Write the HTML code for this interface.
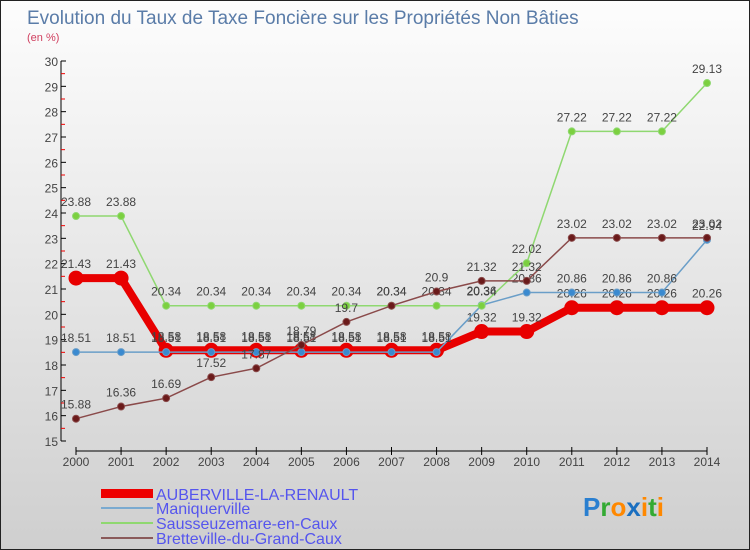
<!DOCTYPE html>
<html><head><meta charset="utf-8"><style>
body{margin:0}
#c{width:750px;height:550px;position:relative;overflow:hidden;box-sizing:border-box;border:1px solid #222;background:linear-gradient(#fdfdfd,#cfcfcf);font-family:"Liberation Sans",sans-serif}
</style></head><body>
<div id="c">
<svg id="s" width="750" height="550" style="position:absolute;left:0;top:0">
<text x="26" y="23" font-size="19" fill="#5a7ca8">Evolution du Taux de Taxe Foncière sur les Propriétés Non Bâties</text>
<text x="26" y="40" font-size="11" fill="#d04060">(en %)</text>
<g id="axes"></g><g id="series"></g>
<g font-size="16" fill="#5555ee">
<rect x="100" y="488" width="52" height="9" fill="#e00"/>
<text x="155" y="499">AUBERVILLE-LA-RENAULT</text>
<rect x="100" y="506" width="52" height="2" fill="#7aaad0"/>
<text x="155" y="513">Maniquerville</text>
<rect x="100" y="521" width="52" height="2" fill="#8fd870"/>
<text x="155" y="528">Sausseuzemare-en-Caux</text>
<rect x="100" y="536" width="52" height="2" fill="#8a5a5a"/>
<text x="155" y="543">Bretteville-du-Grand-Caux</text>
</g>
<text x="582" y="515" font-size="26" font-weight="bold"><tspan fill="#2a7fd0">P</tspan><tspan fill="#3a3">r</tspan><tspan fill="#f80">o</tspan><tspan fill="#1a6fc0">x</tspan><tspan fill="#f80">i</tspan><tspan fill="#3a3">t</tspan><tspan fill="#f80">i</tspan></text>
</svg>
</div>
<script>
const years=[2000,2001,2002,2003,2004,2005,2006,2007,2008,2009,2010,2011,2012,2013,2014];
const yTicks=[15,16,17,18,19,20,21,22,23,24,25,26,27,28,29,30];
const auberville=[21.43,21.43,18.58,18.58,18.58,18.58,18.58,18.58,18.58,19.32,19.32,20.26,20.26,20.26,20.26];
const maniquerville=[18.51,18.51,18.51,18.51,18.51,18.51,18.51,18.51,18.51,20.36,20.86,20.86,20.86,20.86,22.94];
const sausseuzemare=[23.88,23.88,20.34,20.34,20.34,20.34,20.34,20.34,20.34,20.34,22.02,27.22,27.22,27.22,29.13];
const bretteville=[15.88,16.36,16.69,17.52,17.87,18.79,19.7,20.34,20.9,21.32,21.32,23.02,23.02,23.02,23.02];
const NS="http://www.w3.org/2000/svg";
const X=i=>75+i*(706-75)/14, Y=v=>440-(v-15)*(380/15);
function mk(t,a,p){const e=document.createElementNS(NS,t);for(const k in a)e.setAttribute(k,a[k]);p.appendChild(e);return e;}
const ax=document.getElementById('axes');
mk('line',{x1:60,y1:60,x2:60,y2:440,stroke:'#000'},ax);
mk('line',{x1:75,y1:450,x2:706,y2:450,stroke:'#000'},ax);
yTicks.forEach(v=>{const y=Y(v);
 mk('line',{x1:60,y1:y,x2:65,y2:y,stroke:'#000'},ax);
 if(v<30)mk('line',{x1:60,y1:y-12.67,x2:64,y2:y-12.67,stroke:'#e00'},ax);
 const t=mk('text',{x:57,y:y+5,'text-anchor':'end','font-size':12,fill:'#444'},ax);t.textContent=v;
 
 });
years.forEach((yr,i)=>{const x=X(i);
 mk('line',{x1:x,y1:446,x2:x,y2:454,stroke:'#000'},ax);
 const t=mk('text',{x:x,y:465,'text-anchor':'middle','font-size':12,fill:'#444'},ax);t.textContent=yr;
 
 });
const sg=document.getElementById('series');
function series(name,data,col,w,r,pc){
 const g=mk('g',{},sg);
 
 
 mk('polyline',{points:data.map((v,i)=>X(i)+','+Y(v)).join(' '),fill:'none',stroke:col,'stroke-width':w},g);
 data.forEach((v,i)=>{const c=mk('circle',{cx:X(i),cy:Y(v),r:r,fill:pc,stroke:col},g);
  
  
  const t=mk('text',{x:X(i),y:Y(v)-10,'text-anchor':'middle','font-size':12,fill:'#444'},g);t.textContent=v;
  
  });
}
series('auberville',auberville,'#e80000',8,7,'#e80000');
series('maniquerville',maniquerville,'#6a9ec8',1.5,3.5,'#3a8ad0');
series('sausseuzemare',sausseuzemare,'#8fd870',1.5,3.5,'#7cd040');
series('bretteville',bretteville,'#8a4a4a',1.5,3.5,'#6a1a1a');
</script>
</body></html>
